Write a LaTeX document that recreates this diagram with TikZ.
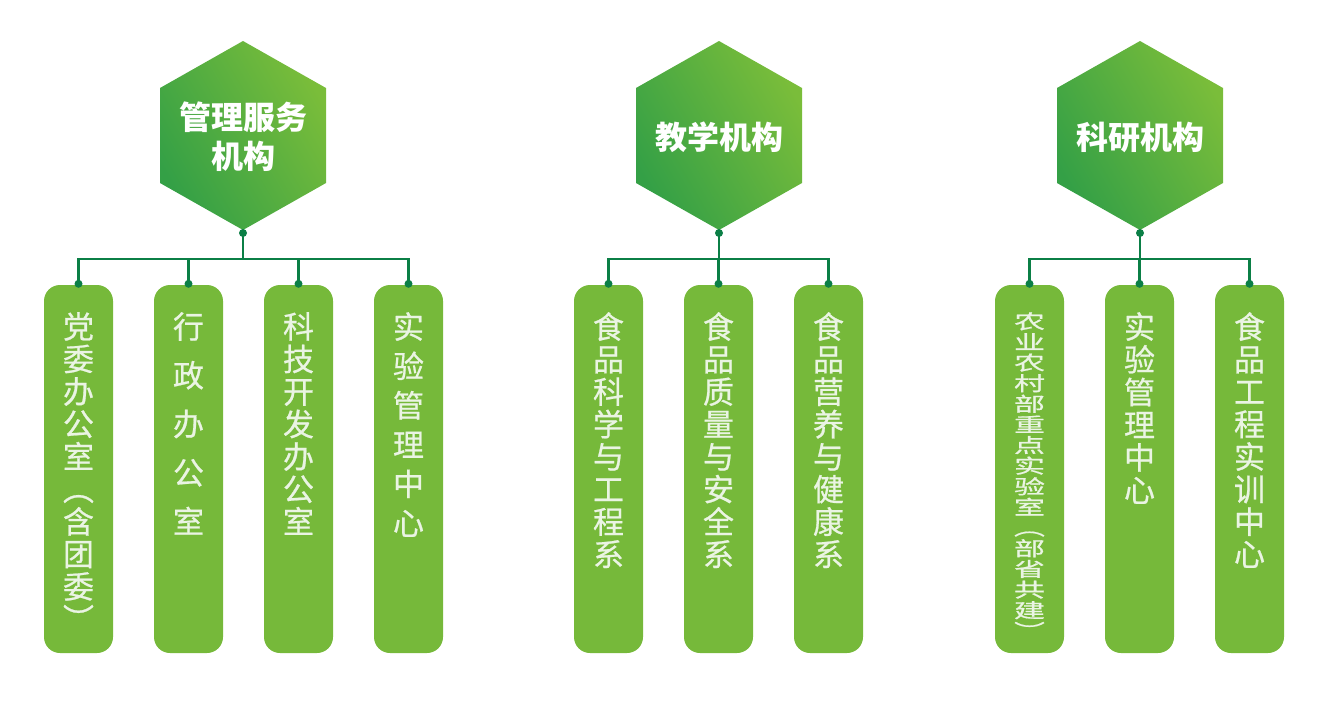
\documentclass[tikz,border=0pt]{standalone}
\usepackage{fontspec}
\setmainfont{Noto Sans CJK SC}
\newfontfamily\deptcjk{Noto Sans CJK SC}[FakeBold=0.7]
\usetikzlibrary{shapes.geometric}
\definecolor{hexdark}{HTML}{34A046}
\definecolor{hexlight}{HTML}{7ABD3A}
\definecolor{deptgreen}{HTML}{76B93A}
\definecolor{linkgreen}{HTML}{0B7F46}
\definecolor{deptfont}{HTML}{EAF4E3}
\newcommand{\vopen}{\rotatebox[origin=c]{-90}{（}}
\newcommand{\vclose}{\rotatebox[origin=c]{-90}{）}}
\tikzset{
    org/.style={
        hexfill/.append style={bottom color=hexdark,top color=hexlight,shading angle=-60},
        hexname/.append style={align=center,inner sep=0pt,text=white,font=\bfseries\fontsize{32}{39}\selectfont},
        dept/.append style={fill=deptgreen,rounded corners=16pt,minimum width=69pt,minimum height=368pt,inner sep=0pt},
        deptname/.append style={anchor=north,align=center,inner sep=0pt,text=deptfont,font=\deptcjk\fontsize{31}{32.5}\selectfont},
        link/.append style={draw=linkgreen,line width=2.2pt},
        dot/.append style={fill=linkgreen}
    }
}

\begin{document}
\begin{tikzpicture}[org,x=1pt,y=-1pt]
    \useasboundingbox (0,0) rectangle (1328,710);
    \foreach \c in {243,719,1140}
        \shade[hexfill] (\c,41) -- (\c+83,88) -- (\c+83,183) -- (\c,230) -- (\c-83,183) -- (\c-83,88) -- cycle;
    \node[hexname] (mgmt) at (243,137) {管理服务\\机构};
    \node[hexname] (teach) at (719,137) {教学机构};
    \node[hexname] (res) at (1140,137) {科研机构};
    \coordinate (mgmtb) at (243,230);
    \coordinate (teachb) at (719,230);
    \coordinate (resb) at (1140,230);

    \node[dept] (m1) at (78.5,469) {};
    \node[dept] (m2) at (188.5,469) {};
    \node[dept] (m3) at (298.5,469) {};
    \node[dept] (m4) at (408.5,469) {};
    \node[dept] (t1) at (608.5,469) {};
    \node[dept] (t2) at (718.5,469) {};
    \node[dept] (t3) at (828.5,469) {};
    \node[dept] (r1) at (1029.5,469) {};
    \node[dept] (r2) at (1139.5,469) {};
    \node[dept] (r3) at (1249.5,469) {};

    \node[deptname] (m1t) at (78.5,312) {党\\委\\办\\公\\室\\\vopen\\含\\团\\委\\\vclose};
    \node[deptname,font=\deptcjk\fontsize{31}{48.7}\selectfont] (m2t) at (188.5,312) {行\\政\\办\\公\\室};
    \node[deptname] (m3t) at (298.5,312) {科\\技\\开\\发\\办\\公\\室};
    \node[deptname,font=\deptcjk\fontsize{31}{39.3}\selectfont] (m4t) at (408.5,312) {实\\验\\管\\理\\中\\心};
    \node[deptname] (t1t) at (608.5,312) {食\\品\\科\\学\\与\\工\\程\\系};
    \node[deptname] (t2t) at (718.5,312) {食\\品\\质\\量\\与\\安\\全\\系};
    \node[deptname] (t3t) at (828.5,312) {食\\品\\营\\养\\与\\健\\康\\系};
    \node[deptname] (r1t) at (1029.5,312) {\scalebox{1}[.635]{\parbox{32pt}{\centering 农\\业\\农\\村\\部\\重\\点\\实\\验\\室\\\vopen\\部\\省\\共\\建\\\vclose}}};
    \node[deptname,font=\deptcjk\fontsize{31}{32.7}\selectfont] (r2t) at (1139.5,312) {实\\验\\管\\理\\中\\心};
    \node[deptname] (r3t) at (1249.5,312) {食\\品\\工\\程\\实\\训\\中\\心};

    \foreach \d in {m1,m2,m3,m4}
        \draw[link] (mgmtb) -- ++(0,29) -| (\d.north);
    \foreach \d in {t1,t2,t3}
        \draw[link] (teachb) -- ++(0,29) -| (\d.north);
    \foreach \d in {r1,r2,r3}
        \draw[link] (resb) -- ++(0,29) -| (\d.north);
    \foreach \n in {mgmtb,teachb,resb}
        \fill[dot] ([yshift=-3pt]\n) circle (4pt);
    \foreach \d in {m1,m2,m3,m4,t1,t2,t3,r1,r2,r3}
        \fill[dot] ([yshift=1pt]\d.north) circle (4pt);
\end{tikzpicture}
\end{document}
